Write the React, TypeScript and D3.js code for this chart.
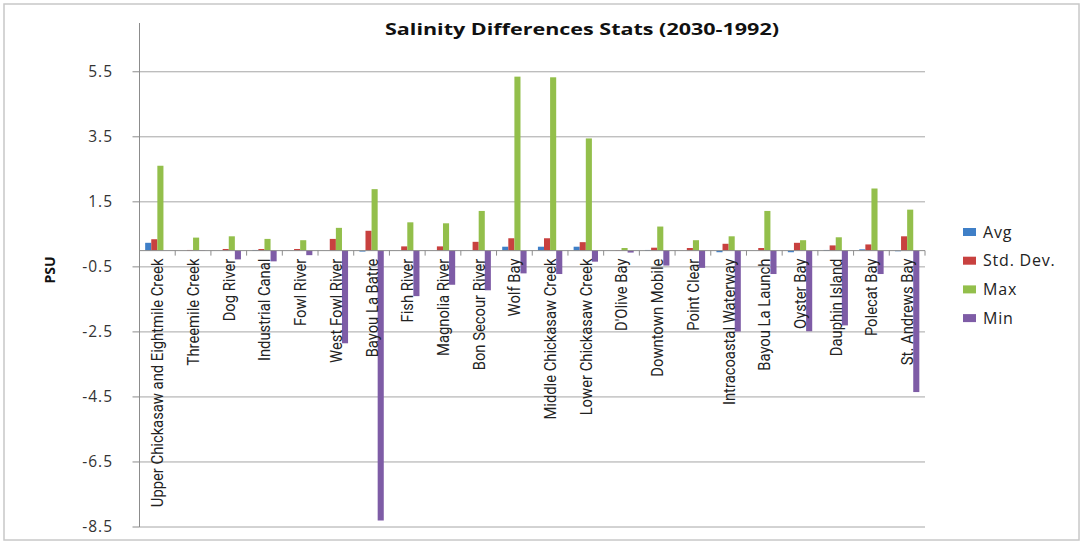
import React from 'react';
import * as d3 from 'd3';

const categories = [
  'Upper Chickasaw and Eightmile Creek', 'Threemile Creek', 'Dog River', 'Industrial Canal',
  'Fowl River', 'West Fowl River', 'Bayou La Batre', 'Fish River', 'Magnolia River',
  'Bon Secour River', 'Wolf Bay', 'Middle Chickasaw Creek', 'Lower Chickasaw Creek',
  "D'Olive Bay", 'Downtown Mobile', 'Point Clear', 'Intracoastal Waterway',
  'Bayou La Launch', 'Oyster Bay', 'Dauphin Island', 'Polecat Bay', 'St. Andrews Bay',
];
const avgValues = [0.24, 0, 0, 0.02, 0, 0, -0.03, 0, 0, 0, 0.12, 0.12, 0.12, 0, 0.02, 0, -0.05, 0, -0.05, 0.02, 0.04, -0.02];
const stdDevValues = [0.35, 0.02, 0.05, 0.05, 0.05, 0.36, 0.61, 0.13, 0.13, 0.27, 0.38, 0.38, 0.26, 0.01, 0.09, 0.08, 0.21, 0.08, 0.24, 0.16, 0.19, 0.44];
const maxValues = [2.61, 0.40, 0.44, 0.36, 0.32, 0.70, 1.89, 0.87, 0.84, 1.22, 5.35, 5.33, 3.45, 0.08, 0.74, 0.32, 0.44, 1.22, 0.32, 0.41, 1.91, 1.26];
const minValues = [0, -0.01, -0.27, -0.33, -0.14, -2.85, -8.30, -1.40, -1.05, -1.22, -0.70, -0.72, -0.34, -0.06, -0.46, -0.53, -2.49, -0.72, -2.48, -2.30, -0.72, -4.35];
const seriesNames = ['Avg', 'Std. Dev.', 'Max', 'Min'];
const seriesColors = ['#3F7FC7', '#C8413F', '#93BF4B', '#7E5CA6'];
const yTickValues = [5.5, 3.5, 1.5, -0.5, -2.5, -4.5, -6.5, -8.5];
const yTickLabels = ['5.5', '3.5', '1.5', '-0.5', '-2.5', '-4.5', '-6.5', '-8.5'];

const W = 1080;
const H = 544;
const plotLeft = 139.5;
const plotRight = 925;
const plotTop = 23;
const plotBottom = 527;

export default function App() {
  const seriesData = [avgValues, stdDevValues, maxValues, minValues];
  const x0 = d3.scaleBand<string>().domain(categories).range([plotLeft, plotRight]).padding(0);
  const x1 = d3.scaleBand<string>().domain(seriesNames).range([0, x0.bandwidth()]).paddingInner(0).paddingOuter(0.93);
  const y = d3.scaleLinear().domain([-8.5, 7.0]).range([plotBottom, plotTop]);
  const y0 = y(0);
  const font = "'Open Sans', 'Noto Sans', sans-serif";
  const labelFont = "Roboto, 'Noto Sans', sans-serif";

  return (
    <svg width={W} height={H} style={{ position: 'absolute', left: 0, top: 0, background: '#fff' }}>
      <rect x={4} y={4} width={1075} height={536} fill="#fff" stroke="#c8c8c8" strokeWidth={1.5} />
      <text x={582} y={35} textAnchor="middle" fontFamily={font} fontWeight="bold" fontSize={16}
        textLength={394} lengthAdjust="spacingAndGlyphs" fill="#111">
        Salinity Differences Stats (2030-1992)
      </text>
      {yTickValues.map((v) => (
        <line key={'g' + v} x1={plotLeft} x2={plotRight} y1={y(v)} y2={y(v)} stroke="#a6a6a6" strokeWidth={1} />
      ))}
      <line x1={plotLeft} x2={plotLeft} y1={plotTop} y2={plotBottom} stroke="#8c8c8c" strokeWidth={1} />
      {yTickValues.map((v, i) => (
        <g key={'t' + v}>
          <line x1={plotLeft - 7} x2={plotLeft} y1={y(v)} y2={y(v)} stroke="#8c8c8c" />
          <text x={113} y={y(v)} dy="0.35em" textAnchor="end" fontFamily={font} fontSize={15.5}
            letterSpacing={1} fill="#333">{yTickLabels[i]}</text>
        </g>
      ))}
      <text transform={`translate(50,${270}) rotate(-90)`} textAnchor="middle" dy="0.35em"
        fontFamily={font} fontWeight="bold" fontSize={14} fill="#111">PSU</text>
      {categories.map((c, ci) => (
        <g key={c}>
          {seriesNames.map((s, si) => {
            const v = seriesData[si][ci];
            const yy = y(Math.max(0, v));
            const h = Math.abs(y(v) - y0);
            return (
              <rect key={s} x={(x0(c) as number) + (x1(s) as number)} y={yy} width={x1.bandwidth()}
                height={h} fill={seriesColors[si]} />
            );
          })}
        </g>
      ))}
      <line x1={plotLeft} x2={plotRight} y1={y0} y2={y0} stroke="#8c8c8c" strokeWidth={1} />
      {categories.map((c) => (
        <line key={'ct' + c} x1={(x0(c) as number) + x0.bandwidth()} x2={(x0(c) as number) + x0.bandwidth()}
          y1={y0} y2={y0 + 5} stroke="#8c8c8c" />
      ))}
      {categories.map((c) => (
        <text key={'cl' + c}
          transform={`translate(${(x0(c) as number) + x0.bandwidth() / 2},${y0 + 8}) rotate(-90) scale(0.87,1)`}
          textAnchor="end" dy="0.35em" fontFamily={labelFont} fontSize={17} fill="#222">{c}</text>
      ))}
      {seriesNames.map((s, i) => (
        <g key={'lg' + s} transform={`translate(963,${232 + i * 28.7})`}>
          <rect x={0} y={-4} width={13} height={8} fill={seriesColors[i]} />
          <text x={20} y={0} dy="0.35em" fontFamily={font} fontSize={16} letterSpacing={0.8} fill="#222">{s}</text>
        </g>
      ))}
    </svg>
  );
}
